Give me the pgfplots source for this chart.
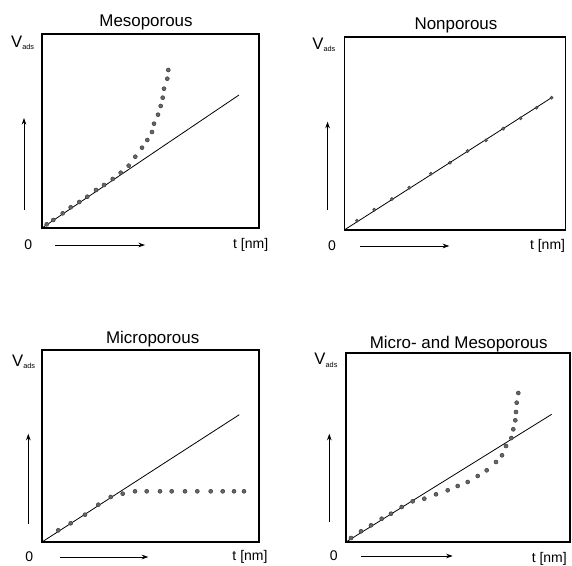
\documentclass[border=0pt]{standalone}
\usepackage{fontspec}
\setmainfont{Liberation Sans}
\usepackage{pgfplots}
\pgfplotsset{compat=1.18}
\usetikzlibrary{arrows.meta}
\tikzset{>={Stealth[length=5pt,width=3.5pt]}}
% one data unit = one pixel of the scan = 0.75pt
\pgfplotsset{panel/.style={scale only axis, ticks=none, xmin=0, ymin=0, clip=false,
    axis line style={line width=0.9pt}, anchor=south west},
  dots/.style={only marks, mark=*, mark size=1.5pt, draw=black!75, fill=black!60},
  fit/.style={black, line width=0.6pt, no marks}}
\newcommand{\ttl}{\fontsize{12.7}{15}\selectfont}
\newcommand{\lbl}{\fontsize{10.5}{12}\selectfont}
\newcommand{\Vads}{{\fontsize{12.5}{14}\selectfont V}\textsubscript{\fontsize{5.5}{6}\selectfont ads}}

\begin{document}
\begin{tikzpicture}
\useasboundingbox (0,0) rectangle (429pt,423.75pt);

% Mesoporous
\begin{axis}[panel, at={(31.5pt,252.75pt)}, width=162.75pt, height=145.5pt, xmax=217, ymax=194]
  \addplot[fit] coordinates {(0,0) (197,133)};
  \addplot[dots] coordinates {
    (4.7,3.7) (11.3,8) (20.7,14.7) (28.7,20.7) (37.3,26) (45.3,31.3) (54,38) (62,43)
    (70.7,49) (78.7,55.3) (86.7,62.3) (93.3,71.3) (100,80.3) (105.3,88) (110,96)
    (112,104.3) (116,113.3) (118.7,122) (120.7,130.3) (122,139.3) (125.3,149.3) (126.3,158)};
  \node[font=\ttl] at (axis cs:104,206) {Mesoporous};
  \node[font=\lbl] at (axis cs:-19,185) {\Vads};
  \node[font=\lbl] at (axis cs:-13.7,-17) {0};
  \node[font=\lbl] at (axis cs:208.7,-17) {t [nm]};
  \draw[->, line width=0.6pt] (axis cs:13,-17) -- (axis cs:103,-17);
  \draw[->, line width=0.6pt] (axis cs:-18,18) -- (axis cs:-18,110);
\end{axis}

% Nonporous
\begin{axis}[panel, at={(258.2pt,251.25pt)}, width=165.75pt, height=144.75pt, xmax=221, ymax=193]
  \addplot[fit] coordinates {(0,0) (207.3,132.3)};
  \addplot[dots, mark size=1.2pt] coordinates {
    (12.7,9.3) (30,20.3) (47.7,31) (65,42.3) (86.7,56.3) (105.7,67.3)
    (123.3,79) (141.7,89.7) (159,101.3) (176.3,111.7) (192.3,122.3) (207.3,132.3)};
  \node[font=\ttl] at (axis cs:111.7,205) {Nonporous};
  \node[font=\lbl] at (axis cs:-20,185) {\Vads};
  \node[font=\lbl] at (axis cs:-12.3,-16) {0};
  \node[font=\lbl] at (axis cs:203.3,-16) {t [nm]};
  \draw[->, line width=0.6pt] (axis cs:15.7,-16) -- (axis cs:105,-16);
  \draw[->, line width=0.6pt] (axis cs:-16.7,20) -- (axis cs:-16.7,108.3);
\end{axis}

% Microporous
\begin{axis}[panel, at={(31.5pt,17.25pt)}, width=162.75pt, height=144pt, xmax=217, ymax=192]
  \addplot[fit] coordinates {(0,0) (197.3,127.3)};
  \addplot[dots] coordinates {
    (16.3,11.7) (28.7,18.7) (43,27.3) (56.3,37.3) (68.7,45) (80.7,48.3)
    (93,50.7) (104.7,50.7) (118,50.7) (129.7,50.7) (143,50.7) (155.3,50.7)
    (168.7,50.7) (180.7,50.7) (192,50.7) (202,50.7)};
  \node[font=\ttl] at (axis cs:110.7,203.3) {Microporous};
  \node[font=\lbl] at (axis cs:-18,180) {\Vads};
  \node[font=\lbl] at (axis cs:-12.7,-15) {0};
  \node[font=\lbl] at (axis cs:208,-15) {t [nm]};
  \draw[->, line width=0.6pt] (axis cs:18,-15) -- (axis cs:106.3,-15);
  \draw[->, line width=0.6pt] (axis cs:-13.7,18.3) -- (axis cs:-13.7,108.3);
\end{axis}

% Micro- and Mesoporous
\begin{axis}[panel, at={(259.5pt,17.25pt)}, width=168pt, height=141.75pt, xmax=224, ymax=189]
  \addplot[fit] coordinates {(0,0) (205.7,127.7)};
  \addplot[dots] coordinates {
    (5,4) (15,10.7) (25,16.7) (35.7,23.3) (45,28.3) (55.7,35) (66.7,40.7)
    (78.3,43.3) (90,47.7) (101.7,51.7) (111.7,56) (121.7,60) (131.7,66)
    (140.7,71.7) (150,80) (156,86.7) (160,96) (165.3,104) (167.3,112.7)
    (169.3,121.7) (170,130) (170.7,139.3) (172.3,149)};
  \node[font=\ttl] at (axis cs:112.7,198.3) {Micro- and Mesoporous};
  \node[font=\lbl] at (axis cs:-19.7,181.7) {\Vads};
  \node[font=\lbl] at (axis cs:-12.3,-14) {0};
  \node[font=\lbl] at (axis cs:203.3,-16.7) {t [nm]};
  \draw[->, line width=0.6pt] (axis cs:15,-14) -- (axis cs:106.7,-14);
  \draw[->, line width=0.6pt] (axis cs:-16.7,20) -- (axis cs:-16.7,108.3);
\end{axis}
\end{tikzpicture}
\end{document}
